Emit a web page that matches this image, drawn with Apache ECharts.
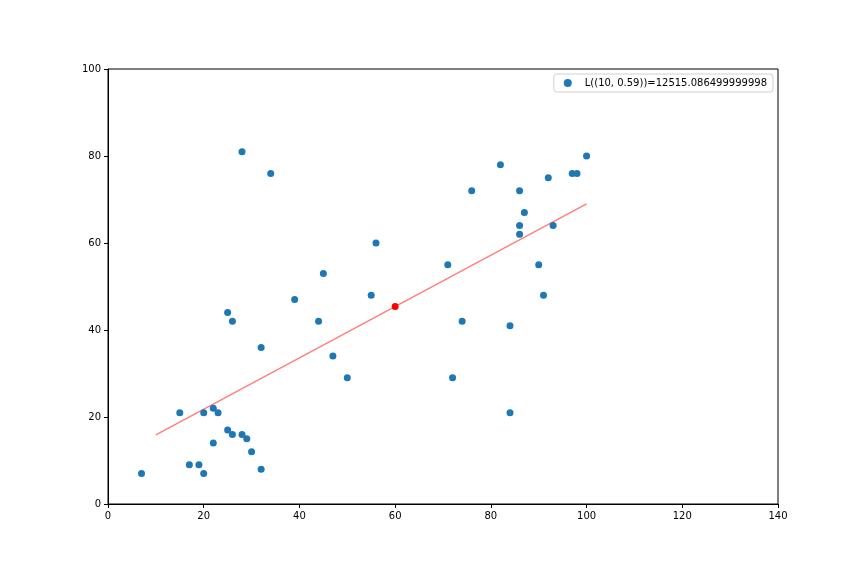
<!DOCTYPE html>
<html>
<head>
<meta charset="utf-8">
<script src="https://cdn.jsdelivr.net/npm/echarts@6/dist/echarts.min.js"></script>
<style>html,body{margin:0;padding:0;background:#fff}#c{width:864px;height:576px}</style>
</head>
<body>
<div id="c"></div>
<script>
const legendLabel = 'L((10, 0.59))=12515.086499999998';
const xValues = [7,15,17,19,20,20,22,23,22,25,26,28,29,30,32,25,26,32,28,34,39,44,45,47,50,55,56,71,72,74,76,82,84,84,86,86,86,87,90,91,92,93,97,98,100];
const yValues = [7,21,9,9,7,21,22,21,14,17,16,16,15,12,8,44,42,36,81,76,47,42,53,34,29,48,60,55,29,42,72,78,41,21,72,64,62,67,55,48,75,64,76,76,80];
const fitLine = [[10,15.9],[100,69]];
const highlight = [[60,45.4]];
const xTicks = [0,20,40,60,80,100,120,140];
const yTicks = [0,20,40,60,80,100];

const points = xValues.map((x,i)=>[x,yValues[i]]);
const chart = echarts.init(document.getElementById('c'), null, {renderer:'canvas'});
const font = 'DejaVu Sans';
chart.setOption({
  animation:false,
  backgroundColor:'#fff',
  grid:{left:108,right:86,top:69,bottom:72,show:true,borderColor:'#000',borderWidth:1,backgroundColor:'transparent'},
  legend:{
    data:[legendLabel],
    right:91, top:74,
    orient:'vertical',
    itemWidth:8,itemHeight:8,itemGap:4,
    padding:[4,6,4,10],
    borderColor:'#d0d0d0',borderWidth:1,borderRadius:3,
    textStyle:{fontFamily:font,fontSize:10,color:'#000',padding:[0,0,0,8]},
    icon:'circle'
  },
  xAxis:{
    type:'value',min:0,max:140,interval:20,
    axisLine:{show:true,onZero:false,lineStyle:{color:'#000',width:1}},
    axisTick:{show:true,length:4,lineStyle:{color:'#000'}},
    axisLabel:{fontFamily:font,fontSize:10,color:'#000',margin:7,
      formatter:v=>xTicks.includes(v)?String(v):''},
    splitLine:{show:false}
  },
  yAxis:{
    type:'value',min:0,max:100,interval:20,
    axisLine:{show:true,onZero:false,lineStyle:{color:'#000',width:1}},
    axisTick:{show:true,length:4,lineStyle:{color:'#000'}},
    axisLabel:{fontFamily:font,fontSize:10,color:'#000',margin:7,
      formatter:v=>yTicks.includes(v)?String(v):''},
    splitLine:{show:false}
  },
  series:[
    {name:legendLabel,type:'scatter',data:points,symbolSize:7,itemStyle:{color:'#1f77b4',opacity:1},z:3},
    {name:'fit',type:'line',data:fitLine,symbol:'none',lineStyle:{color:'rgba(255,0,0,0.5)',width:1.5},z:2},
    {name:'mid',type:'scatter',data:highlight,symbolSize:7,itemStyle:{color:'#ff0000',opacity:1},z:4}
  ]
});
</script>
</body>
</html>
